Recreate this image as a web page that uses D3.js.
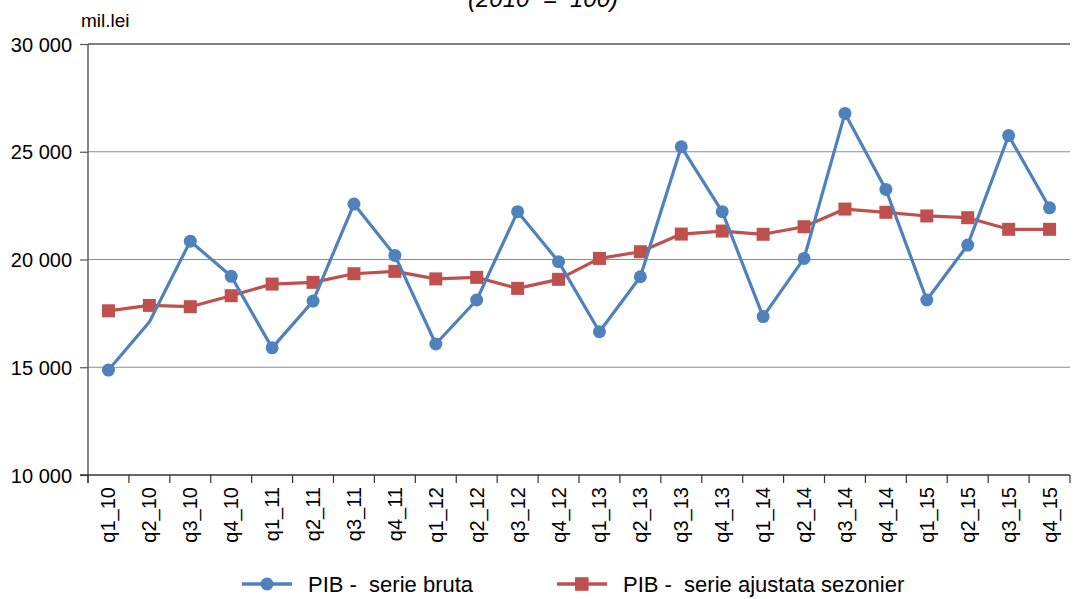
<!DOCTYPE html>
<html>
<head>
<meta charset="utf-8">
<script src="https://cdnjs.cloudflare.com/ajax/libs/d3/7.8.5/d3.min.js"></script>
<style>
  body { margin: 0; background: #fff; }
  text { font-family: "Liberation Sans", Arial, sans-serif; fill: #000; white-space: pre; }
</style>
</head>
<body>
<div id="chart"></div>
<script>
var quarters = ['q1_10', 'q2_10', 'q3_10', 'q4_10', 'q1_11', 'q2_11', 'q3_11', 'q4_11',
                'q1_12', 'q2_12', 'q3_12', 'q4_12', 'q1_13', 'q2_13', 'q3_13', 'q4_13',
                'q1_14', 'q2_14', 'q3_14', 'q4_14', 'q1_15', 'q2_15', 'q3_15', 'q4_15'];
var serieBruta = [14870, 17100, 20850, 19220, 15900, 18070, 22570, 20190,
                  16080, 18120, 22220, 19900, 16650, 19200, 25230, 22220,
                  17350, 20050, 26780, 23250, 18120, 20670, 25750, 22400];
var serieAjustata = [17620, 17870, 17810, 18320, 18860, 18940, 19340, 19450,
                     19100, 19170, 18660, 19080, 20050, 20360, 21180, 21320,
                     21170, 21520, 22340, 22190, 22020, 21940, 21400, 21400];
var yTicks = [10000, 15000, 20000, 25000, 30000];
// Excel left out the marker on this point
var noMarker = ['q2_10'];

function drawChart() {
   var width = 1073, height = 599;
   var mLeft = 88, mRight = 1070, mTop = 44, mBottom = 475;
   var blue = '#4F81BD', red = '#C0504D';

   var svg = d3.select('#chart').append('svg')
      .attr('width', width)
      .attr('height', height);

   var x = d3.scaleBand().domain(quarters).range([mLeft, mRight]);
   var y = d3.scaleLinear().domain([10000, 30000]).range([mBottom, mTop]);
   var fmt = function (d) { return d3.format(',')(d).replace(',', ' '); };

   // title, cut off by the top edge
   svg.append('text')
      .attr('x', 543).attr('y', 7)
      .attr('text-anchor', 'middle')
      .style('font-size', '24px')
      .style('font-style', 'italic')
      .text('(2010  =  100)');

   svg.append('text')
      .attr('x', 81).attr('y', 27)
      .style('font-size', '19px')
      .text('mil.lei');

   // gridlines
   svg.append('g').selectAll('line').data(yTicks.slice(1)).enter().append('line')
      .attr('x1', mLeft).attr('x2', mRight)
      .attr('y1', function (d) { return y(d); })
      .attr('y2', function (d) { return y(d); })
      .attr('stroke', function (d) { return d === 30000 ? '#555' : '#8c8c8c'; })
      .attr('stroke-width', function (d) { return d === 30000 ? 1.6 : 1.2; });

   // y axis
   var yAxis = svg.append('g')
      .attr('transform', 'translate(' + mLeft + ',0)')
      .call(d3.axisLeft(y).tickValues(yTicks).tickFormat(fmt).tickSize(8).tickPadding(8));
   yAxis.select('.domain').remove();
   yAxis.selectAll('.tick line').attr('stroke', '#555').attr('stroke-width', 1.2);
   yAxis.selectAll('.tick text').style('font-size', '20px').attr('dy', '0.36em');
   svg.append('line')
      .attr('x1', mLeft).attr('x2', mLeft)
      .attr('y1', mTop).attr('y2', mBottom + 8)
      .attr('stroke', '#555').attr('stroke-width', 1.4);

   // x axis
   var bounds = quarters.map(function (q) { return x(q); }).concat([mRight]);
   svg.append('g').selectAll('line').data(bounds).enter().append('line')
      .attr('x1', function (d) { return d; }).attr('x2', function (d) { return d; })
      .attr('y1', mBottom).attr('y2', mBottom + 8)
      .attr('stroke', '#333').attr('stroke-width', 1.2);
   svg.append('line')
      .attr('x1', mLeft - 8).attr('x2', mRight)
      .attr('y1', mBottom).attr('y2', mBottom)
      .attr('stroke', '#333').attr('stroke-width', 1.6);
   svg.append('g').selectAll('text').data(quarters).enter().append('text')
      .attr('transform', function (d) {
         return 'translate(' + (x(d) + x.bandwidth() / 2 + 7) + ',' + (mBottom + 12) + ') rotate(-90)';
      })
      .attr('text-anchor', 'end')
      .style('font-size', '20px')
      .text(function (d) { return d; });

   var cx = function (i) { return x(quarters[i]) + x.bandwidth() / 2; };
   var line = d3.line()
      .x(function (d, i) { return cx(i); })
      .y(function (d) { return y(d); });

   // seasonally adjusted series
   svg.append('path').datum(serieAjustata)
      .attr('d', line)
      .attr('fill', 'none')
      .attr('stroke', red)
      .attr('stroke-width', 3.2)
      .attr('stroke-linejoin', 'round');
   svg.append('g').selectAll('rect').data(serieAjustata).enter().append('rect')
      .attr('x', function (d, i) { return cx(i) - 6.5; })
      .attr('y', function (d) { return y(d) - 6.5; })
      .attr('width', 13).attr('height', 13)
      .attr('fill', red);

   // raw series
   svg.append('path').datum(serieBruta)
      .attr('d', line)
      .attr('fill', 'none')
      .attr('stroke', blue)
      .attr('stroke-width', 3.2)
      .attr('stroke-linejoin', 'round');
   var pts = serieBruta.map(function (v, i) { return {q: quarters[i], v: v, i: i}; })
      .filter(function (p) { return noMarker.indexOf(p.q) < 0; });
   svg.append('g').selectAll('circle').data(pts).enter().append('circle')
      .attr('cx', function (p) { return cx(p.i); })
      .attr('cy', function (p) { return y(p.v); })
      .attr('r', 6.5)
      .attr('fill', blue);

   // legend
   var legend = [
      {label: 'PIB -  serie bruta', color: blue, shape: 'circle', x: 242},
      {label: 'PIB -  serie ajustata sezonier', color: red, shape: 'square', x: 557}
   ];
   var lg = svg.append('g').selectAll('g').data(legend).enter().append('g')
      .attr('transform', function (d) { return 'translate(' + d.x + ',584)'; });
   lg.append('line')
      .attr('x1', 0).attr('x2', 50)
      .attr('stroke', function (d) { return d.color; })
      .attr('stroke-width', 3.4);
   lg.filter(function (d) { return d.shape === 'circle'; }).append('circle')
      .attr('cx', 25).attr('r', 6.5)
      .attr('fill', function (d) { return d.color; });
   lg.filter(function (d) { return d.shape === 'square'; }).append('rect')
      .attr('x', 18).attr('y', -6.8).attr('width', 13.6).attr('height', 13.6)
      .attr('fill', function (d) { return d.color; });
   lg.append('text')
      .attr('x', 66).attr('dy', '0.36em')
      .style('font-size', '22px')
      .text(function (d) { return d.label; });
}

drawChart();
</script>
</body>
</html>
